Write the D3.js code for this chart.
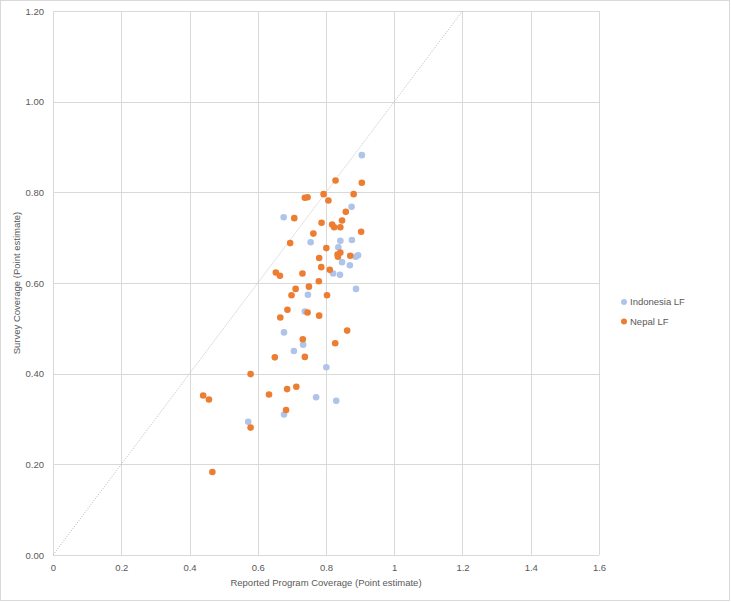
<!DOCTYPE html>
<html>
<head>
<meta charset="utf-8">
<script src="https://cdn.jsdelivr.net/npm/d3@7"></script>
<style>
  body { margin: 0; background: #fff; }
  text { font-family: "Liberation Sans", "DejaVu Sans", sans-serif; fill: #595959; }
</style>
</head>
<body>
<div id="scatter"></div>
<script>
// Series data (x = reported coverage, y = survey coverage)
var indonesiaX = [0.905, 0.875, 0.676, 0.755, 0.842, 0.876, 0.836, 0.894, 0.887, 0.847, 0.870, 0.821,
  0.841, 0.888, 0.747, 0.738, 0.677, 0.733, 0.706, 0.801, 0.771, 0.830, 0.677, 0.572];
var indonesiaY = [0.882, 0.768, 0.745, 0.690, 0.693, 0.695, 0.679, 0.661, 0.658, 0.646, 0.639, 0.621,
  0.618, 0.587, 0.574, 0.537, 0.491, 0.464, 0.450, 0.414, 0.348, 0.340, 0.310, 0.294];

var nepalX = [0.828, 0.905, 0.793, 0.881, 0.738, 0.746, 0.807, 0.858, 0.707, 0.847, 0.787, 0.818,
  0.824, 0.842, 0.903, 0.763, 0.695, 0.801, 0.842, 0.834, 0.835, 0.871, 0.780, 0.786, 0.811, 0.653,
  0.665, 0.731, 0.779, 0.711, 0.750, 0.699, 0.803, 0.687, 0.746, 0.666, 0.780, 0.862, 0.732, 0.827,
  0.650, 0.738, 0.579, 0.440, 0.457, 0.633, 0.686, 0.713, 0.683, 0.579, 0.467];
var nepalY = [0.826, 0.821, 0.796, 0.796, 0.788, 0.789, 0.782, 0.757, 0.743, 0.738, 0.733, 0.729,
  0.723, 0.723, 0.713, 0.709, 0.688, 0.677, 0.667, 0.663, 0.658, 0.660, 0.655, 0.635, 0.629, 0.623,
  0.616, 0.621, 0.604, 0.587, 0.592, 0.573, 0.573, 0.541, 0.535, 0.524, 0.528, 0.495, 0.476, 0.467,
  0.436, 0.437, 0.399, 0.352, 0.343, 0.354, 0.366, 0.371, 0.320, 0.281, 0.183];

var xTicks = [0, 0.2, 0.4, 0.6, 0.8, 1, 1.2, 1.4, 1.6];
var yTicks = [0, 0.2, 0.4, 0.6, 0.8, 1.0, 1.2];
var seriesNames = ["Indonesia LF", "Nepal LF"];
var seriesColors = ["#aec4e9", "#ed7d31"];

var svgWidth = 731;
var svgHeight = 602;

var margin = { top: 11, right: 132, bottom: 47, left: 53 };
var width = svgWidth - margin.left - margin.right;
var height = svgHeight - margin.top - margin.bottom;

var svg = d3.select("#scatter")
  .append("svg")
  .attr("width", svgWidth)
  .attr("height", svgHeight);

// outer chart border
svg.append("rect")
  .attr("x", 0.5)
  .attr("y", 0.5)
  .attr("width", svgWidth - 2)
  .attr("height", svgHeight - 2)
  .attr("fill", "none")
  .attr("stroke", "#d9d9d9");

var chartGroup = svg.append("g")
  .attr("transform", `translate(${margin.left}, ${margin.top})`);

var xScale = d3.scaleLinear().domain([0, 1.6]).range([0, width]);
var yScale = d3.scaleLinear().domain([0, 1.2]).range([height, 0]);

// gridlines
chartGroup.append("g")
  .selectAll("line")
  .data(xTicks)
  .enter()
  .append("line")
  .attr("x1", d => Math.round(xScale(d)) + 0.5)
  .attr("x2", d => Math.round(xScale(d)) + 0.5)
  .attr("y1", 0)
  .attr("y2", height)
  .attr("stroke", "#d9d9d9");

chartGroup.append("g")
  .selectAll("line")
  .data(yTicks)
  .enter()
  .append("line")
  .attr("x1", 0)
  .attr("x2", width)
  .attr("y1", d => Math.round(yScale(d)) + 0.5)
  .attr("y2", d => Math.round(yScale(d)) + 0.5)
  .attr("stroke", "#d9d9d9");

// axes (labels only, Excel style)
var bottomAxis = d3.axisBottom(xScale)
  .tickValues(xTicks)
  .tickSize(0)
  .tickPadding(9)
  .tickFormat(d => d3.format("")(+d.toFixed(1)));
var leftAxis = d3.axisLeft(yScale)
  .tickValues(yTicks)
  .tickSize(0)
  .tickPadding(9)
  .tickFormat(d3.format(".2f"));

var xAxis = chartGroup.append("g")
  .attr("transform", `translate(0, ${height})`)
  .call(bottomAxis);
var yAxis = chartGroup.append("g").call(leftAxis);

[xAxis, yAxis].forEach(function(a) {
  a.select(".domain").remove();
  a.selectAll("text")
    .attr("font-size", "9.5px")
    .attr("font-family", "Liberation Sans, sans-serif")
    .attr("fill", "#595959");
});

// 1:1 reference line
chartGroup.append("line")
  .attr("x1", xScale(0))
  .attr("y1", yScale(0))
  .attr("x2", xScale(1.2))
  .attr("y2", yScale(1.2))
  .attr("stroke", "#a6a6a6")
  .attr("stroke-width", 0.8)
  .attr("stroke-dasharray", "1,1.5");

// points
var series = [
  { x: indonesiaX, y: indonesiaY },
  { x: nepalX, y: nepalY }
];

series.forEach(function(s, i) {
  chartGroup.append("g")
    .selectAll("circle")
    .data(s.x)
    .enter()
    .append("circle")
    .attr("cx", (d, j) => xScale(d))
    .attr("cy", (d, j) => yScale(s.y[j]))
    .attr("r", 3.3)
    .attr("fill", seriesColors[i]);
});

// axis titles
chartGroup.append("text")
  .attr("x", width / 2)
  .attr("y", height + 31)
  .attr("text-anchor", "middle")
  .attr("font-size", "9.5px")
  .text("Reported Program Coverage (Point estimate)");

chartGroup.append("text")
  .attr("transform", "rotate(-90)")
  .attr("x", 0 - (height / 2))
  .attr("y", -33)
  .attr("text-anchor", "middle")
  .attr("font-size", "9.5px")
  .text("Survey Coverage (Point estimate)");

// legend
var legend = svg.append("g")
  .attr("transform", "translate(624, 302)");

seriesNames.forEach(function(name, i) {
  var row = legend.append("g").attr("transform", `translate(0, ${i * 19.5})`);
  row.append("circle")
    .attr("r", 3)
    .attr("fill", seriesColors[i]);
  row.append("text")
    .attr("x", 6)
    .attr("dy", "0.35em")
    .attr("font-size", "9.5px")
    .text(name);
});
</script>
</body>
</html>
